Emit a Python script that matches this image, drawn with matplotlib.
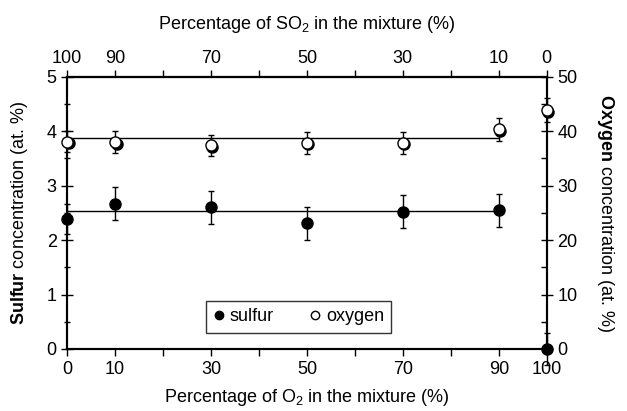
import numpy as np
import matplotlib
matplotlib.use("Agg")
import matplotlib.pyplot as plt
import matplotlib.transforms as mtransforms
from matplotlib.ticker import MultipleLocator
from matplotlib.lines import Line2D

plt.rcParams['font.family'] = ['Liberation Sans', 'DejaVu Sans']
plt.rcParams['mathtext.fontset'] = 'custom'
plt.rcParams['mathtext.rm'] = 'Liberation Sans'
plt.rcParams['mathtext.it'] = 'Liberation Sans:italic'
plt.rcParams['mathtext.bf'] = 'Liberation Sans:bold'

# data
o2_pct = [0, 10, 30, 50, 70, 90, 100]
sulfur = [2.39, 2.67, 2.60, 2.31, 2.52, 2.55, 0.0]
sulfur_err = [0.28, 0.30, 0.30, 0.30, 0.30, 0.30, 0.30]
oxygen = [38.1, 38.0, 37.4, 37.9, 37.9, 40.4, 43.9]
oxygen_err = [2.0, 2.0, 2.0, 2.0, 2.0, 2.1, 2.2]

fit_x = [0, 90]
sulfur_fit = [2.53, 2.53]
oxygen_fit = [38.8, 38.8]

bottom_ticks = [0, 10, 30, 50, 70, 90, 100]
top_ticks = [100, 90, 70, 50, 30, 10, 0]

fs = 13

fig = plt.figure(figsize=(6.27, 4.11), dpi=100)
ax = fig.add_axes([0.107, 0.151, 0.765, 0.662])
ax2 = ax.twinx()

ax.set_xlim(0, 100)
ax.set_ylim(0, 5)
ax2.set_ylim(0, 50)

# fit lines
ax.plot(fit_x, sulfur_fit, color='black', lw=1)
ax2.plot(fit_x, oxygen_fit, color='black', lw=1)

# error bars
ax.errorbar(o2_pct, sulfur, yerr=sulfur_err, fmt='none', ecolor='black',
            elinewidth=1, capsize=2, clip_on=False)
ax2.errorbar(o2_pct, oxygen, yerr=oxygen_err, fmt='none', ecolor='black',
             elinewidth=1, capsize=2, clip_on=False)

# markers (oxygen has a small drop shadow)
shadow2 = mtransforms.offset_copy(ax2.transData, fig=fig, x=1.5, y=-1.5, units='dots')
ax.plot(o2_pct, sulfur, 'o', ms=8, color='black', clip_on=False, zorder=4)
ax2.plot(o2_pct, oxygen, 'o', ms=8, color='black', transform=shadow2, clip_on=False, zorder=3)
ax2.plot(o2_pct, oxygen, 'o', ms=8, mfc='white', mec='black', mew=1,
         clip_on=False, zorder=4)

# axes formatting
for a in (ax, ax2):
    for s in a.spines.values():
        s.set_linewidth(1.5)

ax.set_xticks(bottom_ticks)
ax.xaxis.set_minor_locator(MultipleLocator(10))
ax.yaxis.set_major_locator(MultipleLocator(1))
ax.yaxis.set_minor_locator(MultipleLocator(0.5))
ax2.yaxis.set_major_locator(MultipleLocator(10))
ax2.yaxis.set_minor_locator(MultipleLocator(5))

ax.tick_params(axis='x', which='major', direction='out', length=5, width=1, labelsize=fs)
ax.tick_params(axis='x', which='minor', direction='out', length=5, width=1)
ax.tick_params(axis='y', which='major', direction='inout', length=8, width=1, labelsize=fs)
ax.tick_params(axis='y', which='minor', direction='inout', length=4, width=1)
ax2.tick_params(axis='y', which='major', direction='inout', length=8, width=1, labelsize=fs)
ax2.tick_params(axis='y', which='minor', direction='in', length=4, width=1)

top = ax.secondary_xaxis('top', functions=(lambda v: 100 - v, lambda v: 100 - v))
top.set_xticks(top_ticks)
top.xaxis.set_minor_locator(MultipleLocator(10))
top.tick_params(axis='x', which='both', direction='out', length=5, width=1,
                labelsize=fs, pad=2)
top.spines['top'].set_linewidth(1.5)
top.set_xlabel('Percentage of SO$_2$ in the mixture (%)', fontsize=fs, labelpad=15)

ax.set_xlabel('Percentage of O$_2$ in the mixture (%)', fontsize=fs, labelpad=7)
ax.set_ylabel(r'$\mathbf{Sulfur}$ concentration (at. %)', fontsize=fs, labelpad=12)
ax2.set_ylabel(r'$\mathbf{Oxygen}$ concentration (at. %)', fontsize=fs,
               rotation=270, labelpad=28)

handles = [Line2D([], [], marker='o', ls='none', color='black', ms=6),
           Line2D([], [], marker='o', ls='none', mfc='white', mec='black', ms=6)]
leg = ax.legend(handles, ['sulfur', 'oxygen'], ncol=2, loc='center',
                bbox_to_anchor=(0.483, 0.118), fontsize=fs, frameon=True,
                fancybox=False, edgecolor='black', handlelength=0.6,
                handletextpad=0.3, columnspacing=2.0, borderpad=0.4)
leg.get_frame().set_linewidth(1)

fig.savefig('out.png', dpi=100)
